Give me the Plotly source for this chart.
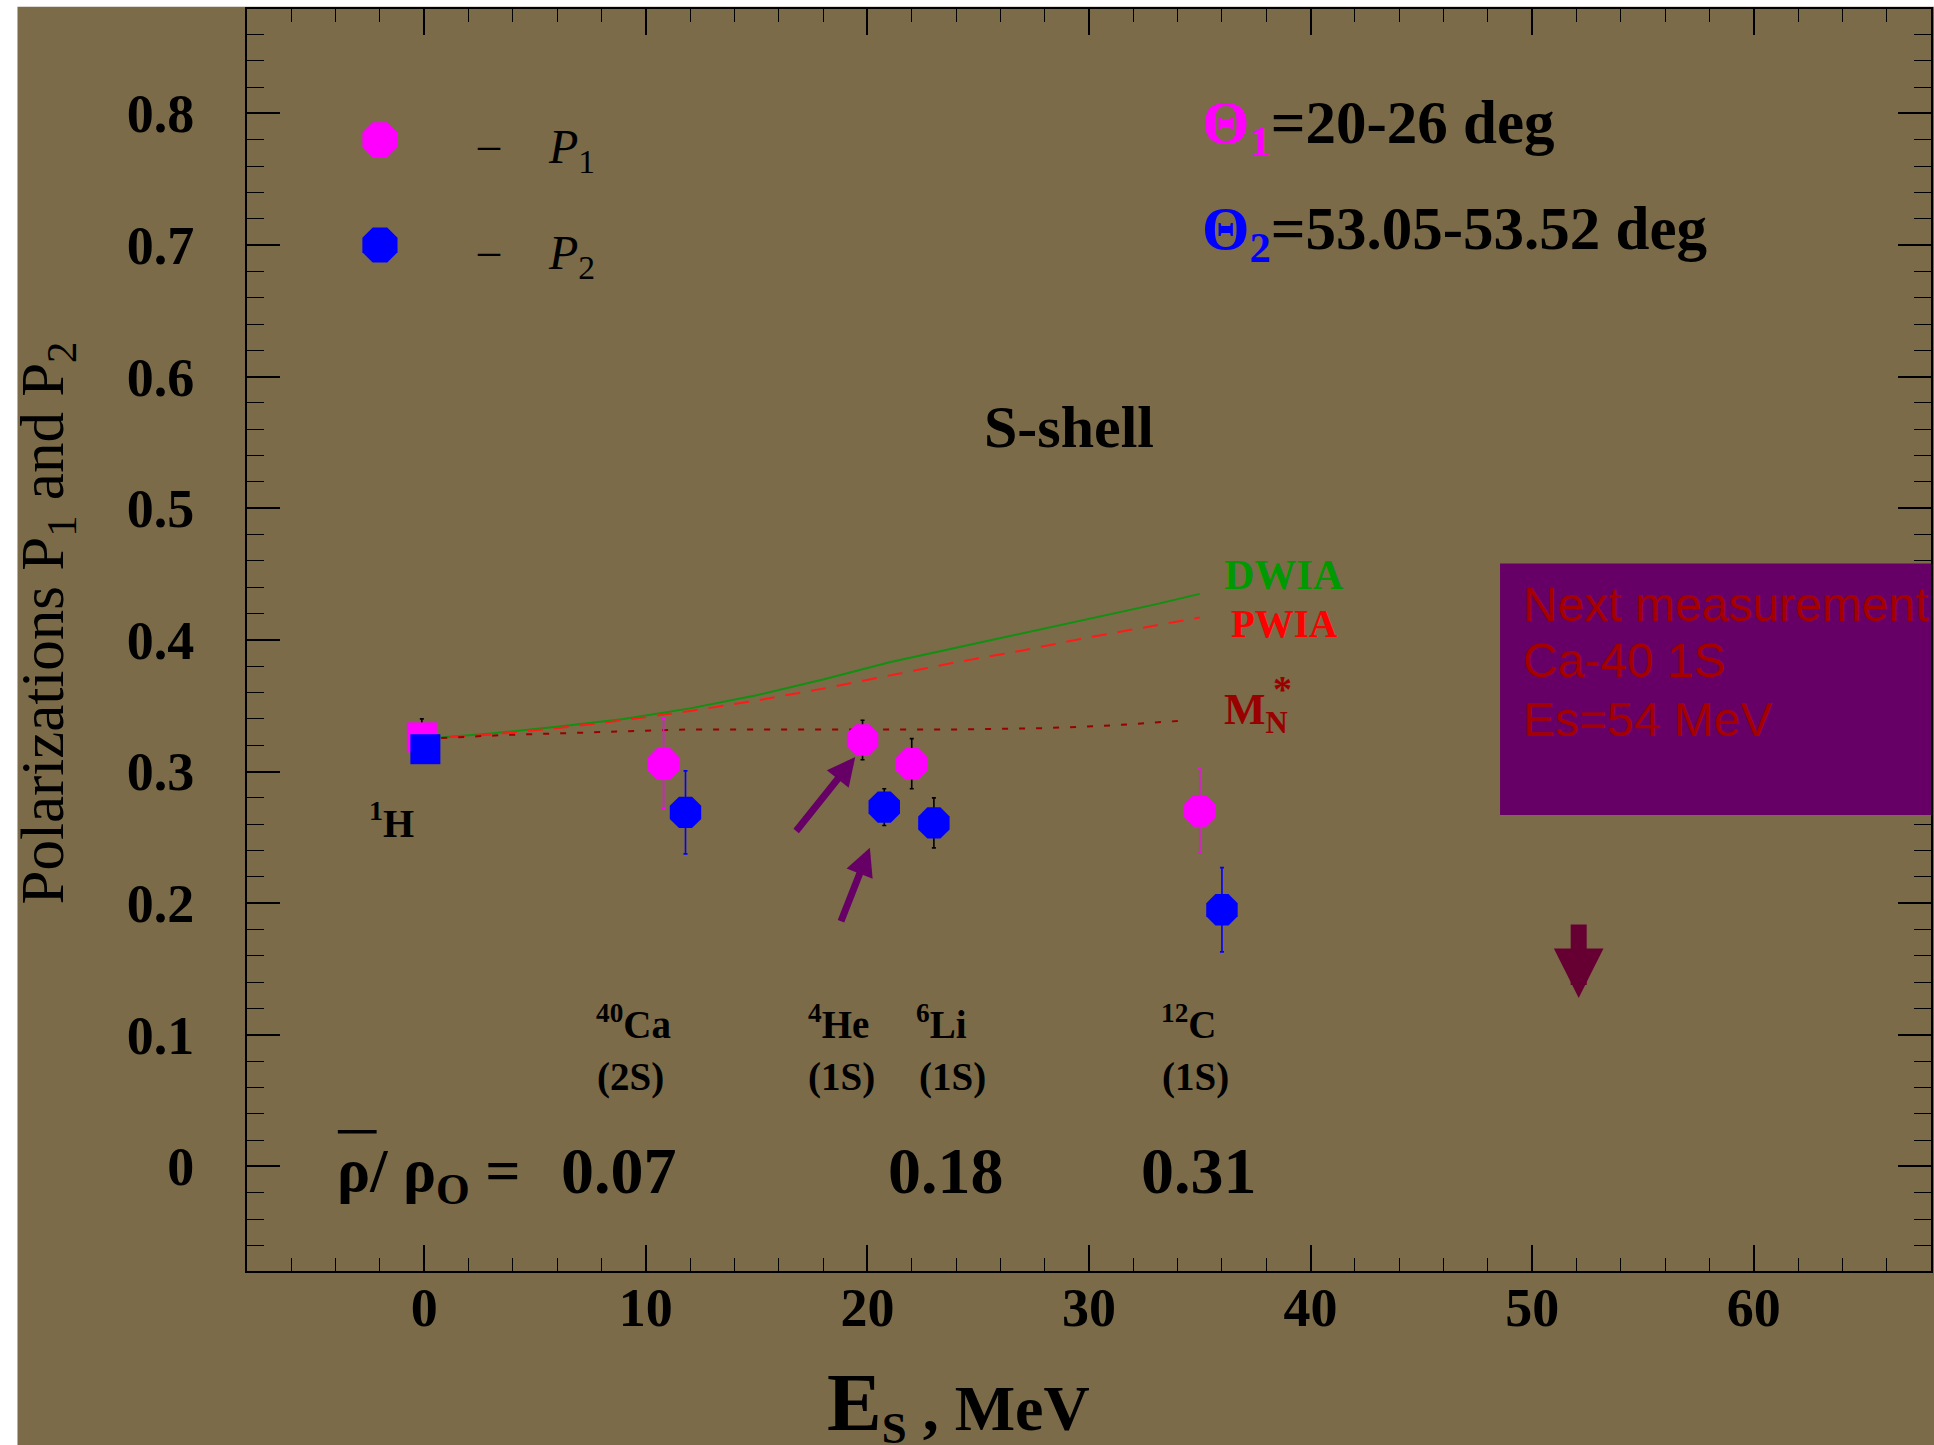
import plotly.graph_objects as go

BG = "#7b6b49"
MAGENTA = "#ff00ff"
BLUE = "#0000ff"
SERIF = "Liberation Serif"
SANS = "Liberation Sans"

# Measured polarizations (Theta1 -> P1, Theta2 -> P2)
nuclei = ["1H", "40Ca", "4He", "6Li", "12C"]
es_p1 = [-0.11, 10.8, 19.78, 22.0, 35.0]
p1 = [0.326, 0.306, 0.324, 0.306, 0.270]
p1_err = [0.014, 0.034, 0.015, 0.019, 0.032]
p1_err_color = ["black", MAGENTA, "black", "black", MAGENTA]
es_p2 = [0.05, 11.79, 20.76, 23.0, 36.0]
p2 = [0.317, 0.269, 0.273, 0.261, 0.195]
p2_err = [0.008, 0.0315, 0.014, 0.019, 0.032]
p2_err_color = ["black", BLUE, "black", "black", BLUE]
symbols = ["square", "octagon", "octagon", "octagon", "octagon"]

# Model calculations
es_curve = [0, 3, 6, 9, 12, 15, 18, 21, 24, 27, 30, 33, 35]
dwia = [0.325, 0.329, 0.334, 0.340, 0.348, 0.358, 0.370, 0.383, 0.394, 0.405, 0.416, 0.427, 0.435]
pwia = [0.325, 0.328, 0.333, 0.339, 0.346, 0.354, 0.363, 0.373, 0.383, 0.392, 0.402, 0.411, 0.417]
es_mstar = [0, 4, 8, 12, 16, 20, 24, 28, 31, 34.5]
mstar = [0.325, 0.328, 0.330, 0.332, 0.332, 0.332, 0.332, 0.333, 0.335, 0.339]

# Mean density ratio labels
rho_x = [8.78, 23.56, 34.95]
rho_vals = ["0.07", "0.18", "0.31"]

fig = go.Figure()

fig.add_trace(go.Scatter(x=es_curve, y=dwia, mode="lines",
                         line=dict(color="#119011", width=2), showlegend=False))
fig.add_trace(go.Scatter(x=es_curve, y=pwia, mode="lines",
                         line=dict(color="#ff1a1a", width=2, dash="15px,11px"), showlegend=False))
fig.add_trace(go.Scatter(x=es_mstar, y=mstar, mode="lines",
                         line=dict(color="#990000", width=2, dash="6px,11px"), showlegend=False))

for xs, ys, errs, ecols, col in [(es_p1, p1, p1_err, p1_err_color, MAGENTA),
                                  (es_p2, p2, p2_err, p2_err_color, BLUE)]:
    for xv, yv, ev, ec, sym in zip(xs, ys, errs, ecols, symbols):
        fig.add_trace(go.Scatter(
            x=[xv], y=[yv], mode="markers",
            marker=dict(symbol=sym, size=34 if sym == "octagon" else 30, color=col,
                        line=dict(width=0)),
            error_y=dict(type="data", array=[ev], color=ec, thickness=1.6, width=2),
            showlegend=False))

# Key markers
fig.add_trace(go.Scatter(x=[-2], y=[0.78], mode="markers",
                         marker=dict(symbol="octagon", size=38, color=MAGENTA), showlegend=False))
fig.add_trace(go.Scatter(x=[-2], y=[0.70], mode="markers",
                         marker=dict(symbol="octagon", size=38, color=BLUE), showlegend=False))

ann = []


def text(x, y, s, size, color="black", family=SERIF, bold=True, xanchor="center",
         yanchor="middle", xref="x", yref="y", angle=0):
    ann.append(dict(x=x, y=y, xref=xref, yref=yref, text=s, showarrow=False,
                    xanchor=xanchor, yanchor=yanchor, textangle=angle,
                    font=dict(family=family, size=size, color=color,
                              weight="bold" if bold else "normal")))


# key text
text(2.9, 0.776, "–", 44, bold=False)
text(5.5, 0.772, "<i>P</i><sub>1</sub>", 48, bold=False, xanchor="left")
text(2.9, 0.696, "–", 44, bold=False)
text(5.5, 0.692, "<i>P</i><sub>2</sub>", 48, bold=False, xanchor="left")

# angle ranges
text(35.0, 0.790, "<span style='color:#ff00ff'>Θ<sub>1</sub></span>=20-26 deg", 61,
     xanchor="left")
text(35.0, 0.709, "<span style='color:#0000ff'>Θ<sub>2</sub></span>=53.05-53.52 deg", 61,
     xanchor="left")

text(29.1, 0.5615, "S-shell", 60)

# curve labels
text(36.0, 0.4497, "DWIA", 42, color="#009a00", xanchor="left")
text(36.3, 0.4124, "PWIA", 39, color="#ff0000", xanchor="left")
text(36.0, 0.345, "M<sub>N</sub>", 44, color="#990000", xanchor="left")
text(38.2, 0.363, "*", 38, color="#990000", xanchor="left")

# nucleus labels
text(-1.5, 0.263, "<sup>1</sup>H", 40)
text(9.46, 0.110, "<sup>40</sup>Ca", 39)
text(9.32, 0.068, "(2S)", 39)
text(18.68, 0.110, "<sup>4</sup>He", 39)
text(18.83, 0.068, "(1S)", 39)
text(23.35, 0.110, "<sup>6</sup>Li", 39)
text(23.82, 0.068, "(1S)", 39)
text(34.5, 0.110, "<sup>12</sup>C", 39)
text(34.82, 0.068, "(1S)", 39)

# density ratio row
text(4.46, -0.006, "ρ/ ρ<sub>O</sub> =", 62, xanchor="right")
for xv, sv in zip(rho_x, rho_vals):
    text(xv, -0.003, sv, 66)

# next measurement box text
text(49.5, 0.4268, "Next measurement", 48, color="#a50000", family=SANS, bold=False,
     xanchor="left")
text(49.5, 0.3843, "Ca-40 1S", 48, color="#a50000", family=SANS, bold=False, xanchor="left")
text(49.5, 0.3398, "Es=54 MeV", 48, color="#a50000", family=SANS, bold=False, xanchor="left")

# axis titles
text(-0.1185, 0.5135, "Polarizations P<sub>1</sub> and P<sub>2</sub>", 61, bold=False,
     xref="paper", yref="paper", angle=-90)
text(24.1, -0.106, "<span style='font-size:82px'>E</span><sub>S</sub> , MeV", 64,
     yref="paper")

# arrows
arrow_style = [
    dict(x=19.45, y=0.311, ax=16.73, ay=0.2537, color="#660066", width=7, size=0.8),
    dict(x=20.11, y=0.2422, ax=18.78, ay=0.1852, color="#660066", width=7, size=0.8),
    dict(x=52.1, y=0.128, ax=52.1, ay=0.185, color="#660033", width=16, size=0.62),
]
for a in arrow_style:
    ann.append(dict(x=a["x"], y=a["y"], ax=a["ax"], ay=a["ay"], xref="x", yref="y",
                    axref="x", ayref="y", text="", showarrow=True, arrowhead=2,
                    arrowwidth=a["width"], arrowsize=a["size"], arrowcolor=a["color"],
                    standoff=0, startstandoff=0))

shapes = [
    dict(type="rect", xref="x", yref="y", x0=48.55, x1=70, y0=0.2671, y1=0.458,
         fillcolor="#660066", line=dict(width=0), layer="above"),
    # bar over the mean density symbol
    dict(type="line", xref="x", yref="y", x0=-3.9, x1=-2.15, y0=0.0263, y1=0.0263,
         line=dict(color="black", width=3.5)),
    # white page strips
    dict(type="rect", xref="paper", yref="paper", x0=-0.2, x1=1.1, y0=1.0018, y1=1.2,
         fillcolor="white", line=dict(width=0), layer="below"),
    dict(type="rect", xref="paper", yref="paper", x0=-0.2, x1=-0.1363, y0=-0.2, y1=1.2,
         fillcolor="white", line=dict(width=0), layer="below"),
]

axis_common = dict(
    showline=True, linecolor="black", linewidth=2, mirror="allticks",
    ticks="inside", tickcolor="black", tickwidth=1.6, showgrid=False, zeroline=False,
    tickfont=dict(family=SERIF, size=54, color="black", weight="bold"),
)

fig.update_layout(
    width=1934, height=1445,
    margin=dict(l=247, r=1, t=9, b=174),
    paper_bgcolor=BG, plot_bgcolor=BG,
    showlegend=False,
    xaxis=dict(range=[-8, 68], tick0=0, dtick=10, ticklen=26,
               minor=dict(dtick=2, ticklen=13, ticks="inside", tickcolor="black",
                          tickwidth=1.4),
               ticklabelstandoff=-12, **axis_common),
    yaxis=dict(range=[-0.0794, 0.8793], tick0=0, dtick=0.1, ticklen=33,
               minor=dict(dtick=0.02, ticklen=17, ticks="inside", tickcolor="black",
                          tickwidth=1.4),
               ticklabelstandoff=40, **axis_common),
    annotations=ann,
    shapes=shapes,
)

fig.write_html("out.html")
